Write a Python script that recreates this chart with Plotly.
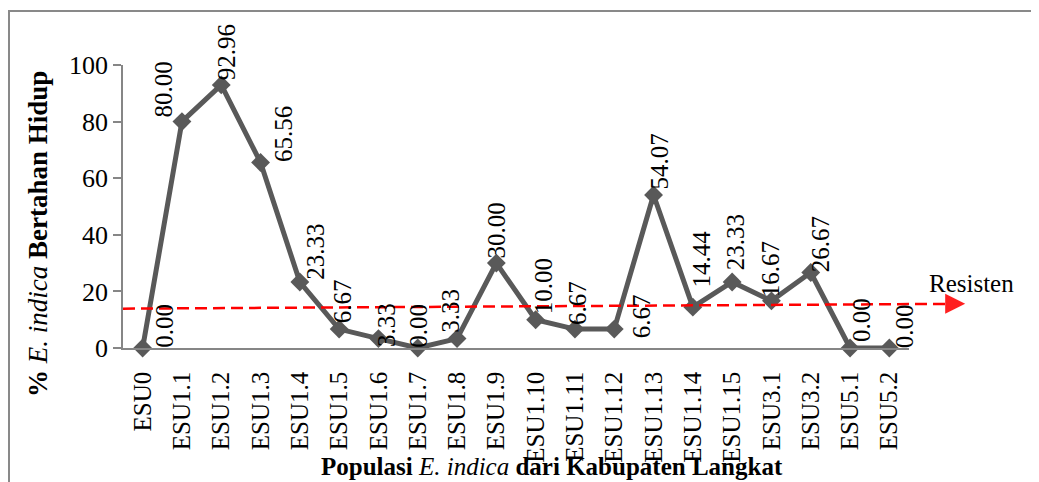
import plotly.graph_objects as go

# ---------------- data ----------------
categories = ["ESU0", "ESU1.1", "ESU1.2", "ESU1.3", "ESU1.4", "ESU1.5", "ESU1.6",
              "ESU1.7", "ESU1.8", "ESU1.9", "ESU1.10", "ESU1.11", "ESU1.12",
              "ESU1.13", "ESU1.14", "ESU1.15", "ESU3.1", "ESU3.2", "ESU5.1", "ESU5.2"]
survival = [0.00, 80.00, 92.96, 65.56, 23.33, 6.67, 3.33, 0.00, 3.33, 30.00,
            10.00, 6.67, 6.67, 54.07, 14.44, 23.33, 16.67, 26.67, 0.00, 0.00]
y_ticks = [0, 20, 40, 60, 80, 100]
threshold_start = 13.9   # hand-drawn "Resisten" arrow (value at left end)
threshold_end = 15.6     # value at arrow tip

# ---------------- layout helpers (pixel offsets of data labels) ----------------
label_dx = [21, -18, 6, 23, 16, 3, 8, 0, -6, 0, 8, 2, 27, 6, 9, 4, -1, 10, 11, 15]
label_dy = [0, 4, 5, 0, 2, 6, -8, 0, 6, 5, 5, 4, -9, 5, 20, 12, 4, 0, 6, 0]

OFF = 8                      # default body margin of the page
W, H = 1039 - OFF, 482 - OFF
L, R, T, B = 123 - OFF, 130, 65 - OFF, 134
PW, PH = W - L - R, H - T - B
n = len(categories)
Y_MAX = 100.0

def px_x(px):                # page pixel -> paper x
    return (px - OFF - L) / PW

def px_y(py):                # page pixel -> paper y
    return (H - B - (py - OFF)) / PH

def idx_x(i):                # category slot -> paper x
    return (i + 0.5) / n

def val_y(v):                # value -> paper y
    return v / Y_MAX

FONT = "Liberation Serif"
GREY = "#595959"
AXIS = "#868686"

fig = go.Figure()
fig.add_trace(go.Scatter(
    x=categories, y=survival, mode="lines+markers",
    line=dict(color=GREY, width=5),
    marker=dict(symbol="diamond", size=14.5, color=GREY),
    cliponaxis=False, showlegend=False, hoverinfo="x+y"))

annotations = []
for c, v, dx, dy in zip(categories, survival, label_dx, label_dy):
    annotations.append(dict(
        x=c, y=v, xref="x", yref="y", text=f"{v:.2f}", showarrow=False,
        textangle=-90, xanchor="center", yanchor="bottom",
        xshift=dx, yshift=dy - 1, borderpad=0,
        font=dict(family=FONT, size=25, color="black")))

# threshold arrow tip
annotations.append(dict(
    x=idx_x(n + 0.93), y=val_y(threshold_end), xref="paper", yref="paper",
    ax=-16, ay=0, axref="pixel", ayref="pixel", showarrow=True, arrowhead=2,
    arrowsize=1.6, arrowwidth=2.5, arrowcolor="#FF2020", standoff=0, text=""))
annotations.append(dict(
    x=px_x(971), y=px_y(283), xref="paper", yref="paper", text="Resisten",
    showarrow=False, xanchor="center", yanchor="middle",
    font=dict(family=FONT, size=25, color="black")))

# axis titles
annotations.append(dict(
    x=px_x(38), y=px_y(234), xref="paper", yref="paper", showarrow=False,
    textangle=-90, xanchor="center", yanchor="middle",
    text="<b>%</b> <i>E. indica</i> <b>Bertahan Hidup</b>",
    font=dict(family=FONT, size=27, color="black")))
annotations.append(dict(
    x=px_x(552), y=px_y(467), xref="paper", yref="paper", showarrow=False,
    xanchor="center", yanchor="middle",
    text="<b>Populasi</b> <i>E. indica</i> <b>dari Kabupaten Langkat</b>",
    font=dict(family=FONT, size=25, color="black")))

bx, by_top, by_bot, bx_right = px_x(9), px_y(11), px_y(490), px_x(1045)
shapes = [
    # outer chart border (left and top edges visible)
    dict(type="path", xref="paper", yref="paper",
         path=f"M {bx},{by_bot} L {bx},{by_top} L {bx_right},{by_top}",
         line=dict(color="#898989", width=2), layer="below"),
    # dashed threshold line
    dict(type="line", xref="paper", yref="paper",
         x0=idx_x(-0.5), y0=val_y(threshold_start),
         x1=idx_x(n + 0.62), y1=val_y(threshold_end),
         line=dict(color="#FF0000", width=2.5, dash="12px,6px")),
]

fig.update_layout(
    width=W, height=H, margin=dict(l=L, r=R, t=T, b=B, autoexpand=False),
    paper_bgcolor="white", plot_bgcolor="white",
    font=dict(family=FONT, size=25, color="black"),
    annotations=annotations, shapes=shapes,
    xaxis=dict(type="category", range=[-0.5, n - 0.5], showline=True,
               linecolor=AXIS, linewidth=1.5, ticks="", tickangle=-90,
               showgrid=False, zeroline=False, ticklabelstandoff=12,
               tickfont=dict(family=FONT, size=25, color="black")),
    yaxis=dict(range=[0, Y_MAX], tickvals=y_ticks, showline=True, linecolor=AXIS,
               linewidth=1.5, ticks="outside", ticklen=8, tickcolor=AXIS,
               tickwidth=1.5, showgrid=False, zeroline=False,
               tickfont=dict(family=FONT, size=26, color="black")),
)

fig.write_html("out.html")
